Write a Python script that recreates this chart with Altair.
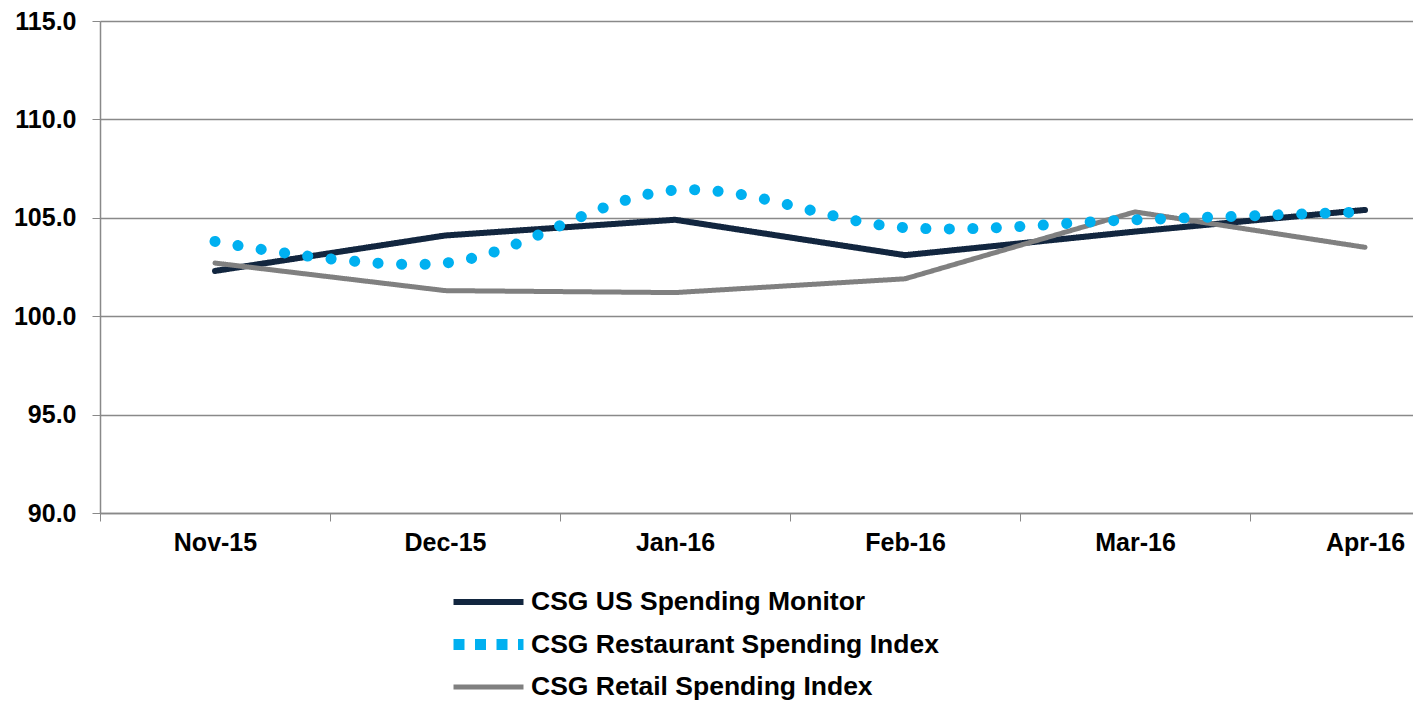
import json
import altair as alt
import pandas as pd

months = ["Nov-15", "Dec-15", "Jan-16", "Feb-16", "Mar-16", "Apr-16"]
series_names = [
    "CSG US Spending Monitor",
    "CSG Restaurant Spending Index",
    "CSG Retail Spending Index",
]
us_spending = [102.3, 104.1, 104.9, 103.1, 104.3, 105.4]
restaurant_spending = [103.8, 102.7, 106.4, 104.5, 104.9, 105.3]
retail_spending = [102.7, 101.3, 101.2, 101.9, 105.3, 103.5]
y_ticks = [90, 95, 100, 105, 110, 115]

rows = []
for name, vals in zip(series_names, [us_spending, restaurant_spending, retail_spending]):
    for i, (m, v) in enumerate(zip(months, vals)):
        rows.append({"series": name, "idx": i, "month": m, "value": v})
df = pd.DataFrame(rows)

colors = ["#12263f", "#00b0f0", "#808080"]
dashes = [[1, 0], [11, 10.5], [1, 0]]
widths = [6, 11, 5]

GRID = "#898989"
FONT = "Liberation Sans"

legend = alt.Legend(
    orient="none", legendX=348, legendY=568, title=None, direction="vertical",
    symbolType="stroke", symbolSize=4900, labelFontSize=26.5, labelFont=FONT,
    labelFontWeight="bold", labelColor="black", labelLimit=900, rowPadding=15.5,
    clipHeight=26, labelOffset=2, padding=0, offset=0,
)

x_enc = alt.X(
    "idx:Q",
    scale=alt.Scale(domain=[-0.5, 5.2087], nice=False, zero=False),
    axis=alt.Axis(
        values=[i - 0.5 for i in range(len(months))],
        labelExpr=json.dumps(months) + "[round(datum.value + 0.5)]",
        labelOffset=115, labelFlush=False, title=None, grid=False,
        tickSize=8, labelPadding=9, labelFontSize=25, labelFont=FONT,
        labelFontWeight="bold", labelColor="black", labelOverlap=False,
        domainColor=GRID, tickColor=GRID, domainWidth=1.5,
    ),
)
y_enc = alt.Y(
    "value:Q",
    scale=alt.Scale(domain=[90, 115], nice=False, zero=False),
    axis=alt.Axis(
        values=y_ticks, format=".1f", title=None, tickSize=8, labelPadding=16,
        labelFontSize=25, labelFont=FONT, labelFontWeight="bold", labelColor="black",
        gridColor=GRID, gridWidth=1.5, domainColor=GRID, tickColor=GRID, domainWidth=1.5,
    ),
)
color_enc = alt.Color(
    "series:N", scale=alt.Scale(domain=series_names, range=colors), legend=legend,
)

solid = alt.Chart(df).transform_filter(
    alt.datum.series != series_names[1]
).mark_line(strokeCap="round", strokeJoin="round").encode(
    x=x_enc,
    y=y_enc,
    color=color_enc,
    strokeDash=alt.StrokeDash(
        "series:N", scale=alt.Scale(domain=series_names, range=dashes), legend=legend
    ),
    strokeWidth=alt.StrokeWidth(
        "series:N",
        scale=alt.Scale(type="ordinal", domain=series_names, range=widths),
        legend=legend,
    ),
    order="idx:Q",
)

dotted = alt.Chart(df).transform_filter(
    alt.datum.series == series_names[1]
).mark_line(
    strokeCap="round", strokeDash=[0.1, 23.4], strokeWidth=11, interpolate="catmull-rom"
).encode(
    x=x_enc,
    y=y_enc,
    color=color_enc,
    order="idx:Q",
)

chart = alt.layer(solid, dotted).properties(
    width=1313,
    height=492,
    padding={"left": 92, "top": 13, "right": 0, "bottom": 188},
    autosize=alt.AutoSizeParams(type="none"),
).configure_view(stroke=None)

chart.save("out.html", embed_options={"renderer": "svg", "actions": False})
